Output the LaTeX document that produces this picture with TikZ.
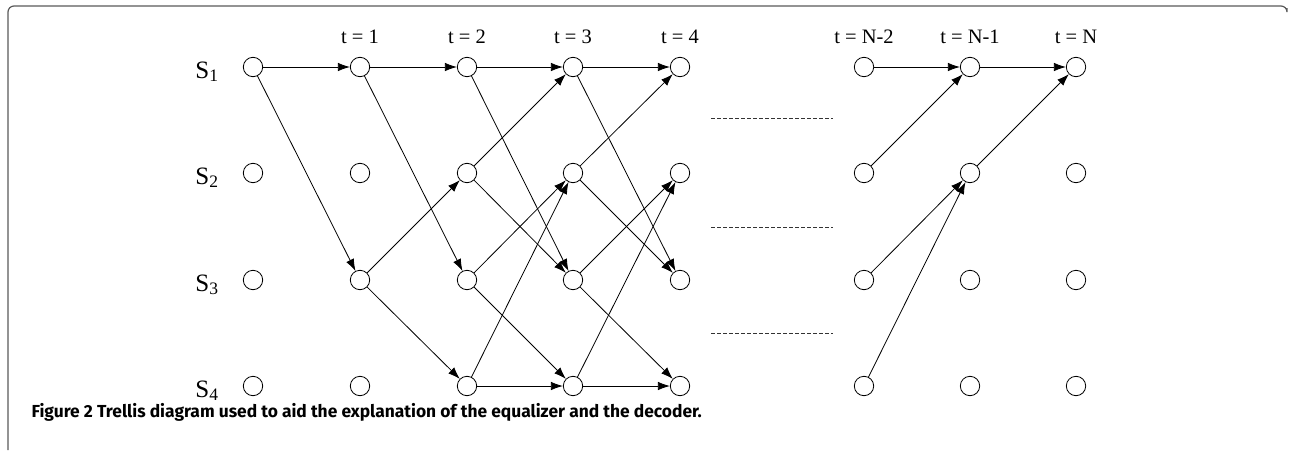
\documentclass[tikz,border=0pt]{standalone}
\usepackage{fontspec}
\setmainfont{Liberation Serif}
\newfontfamily\legendafont{Fira Sans}
\usepackage{xcolor}
\usepackage{tikz}
\usetikzlibrary{arrows.meta, positioning}

\begin{document}
\begin{tikzpicture}[
        x=1pt, y=-1pt,
        estado/.style={circle, draw, minimum size=19.4pt, inner sep=0pt, line width=0.8pt},
        ramo/.style={-{Latex[length=12pt, width=8.5pt]}, line width=0.8pt},
        tempo/.style={anchor=base, font=\fontsize{20.5}{24}\selectfont},
        rotulo/.style={anchor=base, font=\fontsize{25}{28}\selectfont},
        reticencias/.style={dashed, dash pattern=on 4pt off 2pt, line width=0.7pt, black!80},
        moldura/.style={line width=1.2pt, black!65, rounded corners=6pt},
        legenda/.style={anchor=base west, font=\legendafont\bfseries\fontsize{17.4}{20}\selectfont}
    ]
    \useasboundingbox (0,0) rectangle (1291,450);
    \draw[moldura] (8,450) -- (8,6) -- (1287,6) -- (1287,8);

    % Estados da trelica
    \foreach \c/\x in {0/253,1/360,2/467,3/573,4/680,5/864,6/970,7/1076}
        \foreach \r/\y in {1/67,2/173,3/280,4/386}
            \node[estado] (s\r-\c) at (\x,\y) {};

    % Instantes de tempo
    \foreach \c/\x/\lab in {1/360/1,2/467/2,3/573/3,4/680/4,5/864/N-2,6/970/N-1,7/1076/N}
        \node[tempo] (t\c) at (\x,43) {t = \lab};

    % Rotulos dos estados
    \foreach \r/\y in {1/78,2/184,3/291,4/397}
        \node[rotulo] (S\r) at (207,\y) {S\textsubscript{\r}};

    % Ramos
    \draw[ramo] (s1-0) -- (s1-1);
    \draw[ramo] (s1-0) -- (s3-1);
    \foreach \a/\b in {1/1,1/3,3/2,3/4}
        \draw[ramo] (s\a-1) -- (s\b-2);
    \foreach \c/\d in {2/3,3/4}
        \foreach \a/\b in {1/1,1/3,2/1,2/3,3/2,3/4,4/2,4/4}
            \draw[ramo] (s\a-\c) -- (s\b-\d);
    \foreach \a/\b in {1/1,2/1,3/2,4/2}
        \draw[ramo] (s\a-5) -- (s\b-6);
    \foreach \a/\b in {1/1,2/1}
        \draw[ramo] (s\a-6) -- (s\b-7);

    % Trecho omitido
    \foreach \y in {118,227,333}
        \draw[reticencias] (711,\y) -- (833,\y);

    \node[legenda] (leg) at (28,417) {Figure 2 Trellis diagram used to aid the explanation of the equalizer and the decoder.};
\end{tikzpicture}
\end{document}
